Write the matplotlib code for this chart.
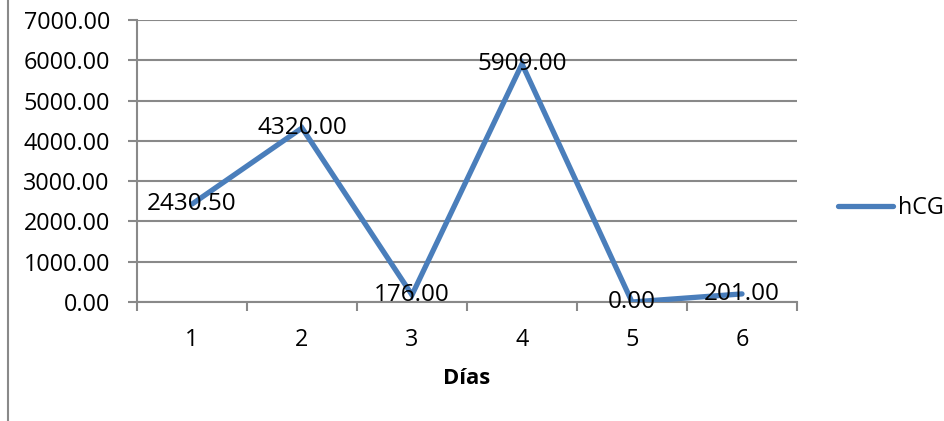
import matplotlib
matplotlib.use("Agg")
import matplotlib.pyplot as plt
from matplotlib.lines import Line2D

# hCG readings per day
dias = [1, 2, 3, 4, 5, 6]
hcg = [2430.50, 4320.00, 176.00, 5909.00, 0.00, 201.00]
y_ticks = [0, 1000, 2000, 3000, 4000, 5000, 6000, 7000]

plt.rcParams["font.family"] = ["Open Sans", "DejaVu Sans"]
FS = 16.8
GRAY = "#898989"
BLUE = "#4A7EBB"

fig = plt.figure(figsize=(9.44, 4.21), dpi=100)
ax = fig.add_axes([137 / 944, 1 - 302 / 421, 660 / 944, 282 / 421])

ax.plot(dias, hcg, color=BLUE, linewidth=3.8, solid_capstyle="round",
        solid_joinstyle="miter", label="hCG", zorder=3)

# value labels centred on each point
for d, v in zip(dias, hcg):
    ax.text(d, v, f"{v:.2f}", ha="center", va="center", fontsize=17.5, zorder=4)

ax.set_xlim(0.5, 6.5)
ax.set_ylim(0, 7000)
ax.set_yticks(y_ticks)
ax.set_yticklabels([f"{t:.2f}" for t in y_ticks])
ax.yaxis.grid(True, color=GRAY, linewidth=1.5)
ax.set_axisbelow(True)

# category ticks sit between the days, labels at the day centres
ax.set_xticks([d + 0.5 for d in [0] + dias])
ax.set_xticklabels([])
ax.set_xticks(dias, minor=True)
ax.set_xticklabels([str(d) for d in dias], minor=True)
ax.tick_params(axis="x", which="major", length=6.5, width=1.5, color=GRAY, direction="out")
ax.tick_params(axis="x", which="minor", length=0, pad=19, labelsize=FS)
ax.tick_params(axis="y", length=6.5, width=1.5, color=GRAY, pad=13, labelsize=FS)

for s in ["top", "right"]:
    ax.spines[s].set_visible(False)
for s in ["left", "bottom"]:
    ax.spines[s].set_color(GRAY)
    ax.spines[s].set_linewidth(1.5)

ax.set_xlabel("Días", fontsize=FS - 1, fontweight="bold", labelpad=11)

ax.legend(loc="center left", bbox_to_anchor=(838 / 944, 1 - 208 / 421),
          bbox_transform=fig.transFigure, frameon=False, borderpad=0,
          borderaxespad=0, handlelength=2.35, handletextpad=0.2, fontsize=FS)

# chart frame edge on the left
fig.add_artist(Line2D([7.5 / 944, 7.5 / 944], [0, 1], color=GRAY, linewidth=1.5,
                      transform=fig.transFigure))

fig.savefig("out.png", dpi=100)
